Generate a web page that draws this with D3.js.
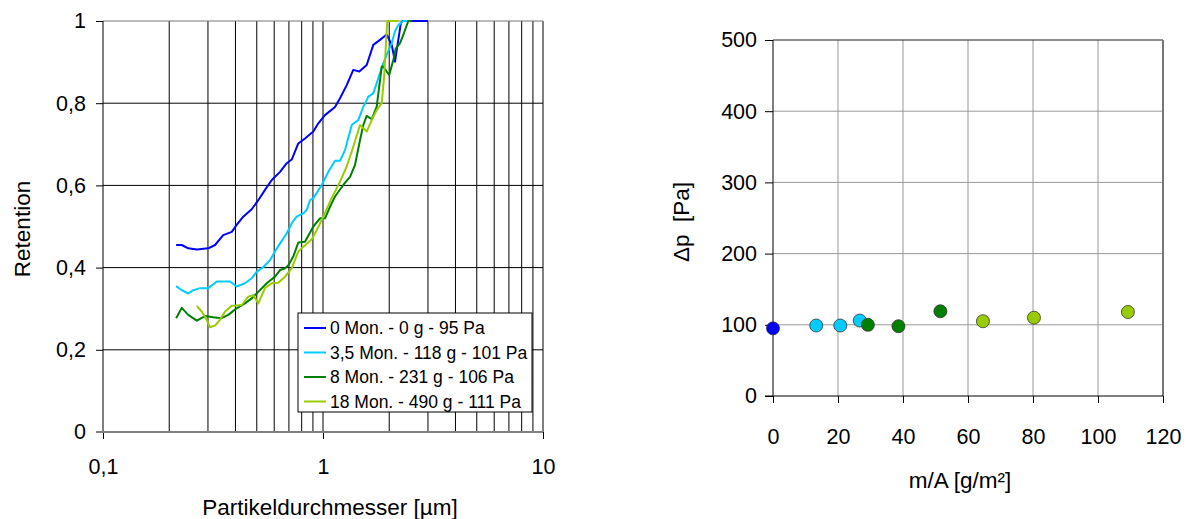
<!DOCTYPE html>
<html>
<head>
<meta charset="utf-8">
<script src="https://cdn.jsdelivr.net/npm/d3@7"></script>
<style>
  html, body { margin: 0; padding: 0; background: #fff; }
  svg { display: block; font-family: "Liberation Sans", Arial, sans-serif; }
</style>
</head>
<body>
<svg id="chart" width="1186" height="519"></svg>
<script>
// ---------- Retention curves (particle diameter in µm, retention 0..1) ----------
const seriesLabels = [
  "0 Mon. - 0 g - 95 Pa",
  "3,5 Mon. - 118 g - 101 Pa",
  "8 Mon. - 231 g - 106 Pa",
  "18 Mon. - 490 g - 111 Pa"
];

const diam0 = [0.215, 0.228, 0.244, 0.267, 0.301, 0.323, 0.352, 0.385, 0.405, 0.434, 0.474, 0.508,
  0.545, 0.585, 0.638, 0.684, 0.721, 0.772, 0.828, 0.904, 0.952, 1.021, 1.134, 1.195, 1.282, 1.373,
  1.462, 1.580, 1.693, 1.816, 1.948, 2.053, 2.125, 2.163, 2.223, 2.256, 2.30, 3.0];
const ret0 = [0.455, 0.455, 0.447, 0.444, 0.447, 0.455, 0.479, 0.487, 0.504, 0.524, 0.542, 0.564,
  0.589, 0.613, 0.633, 0.654, 0.663, 0.702, 0.714, 0.731, 0.751, 0.771, 0.791, 0.812, 0.844, 0.881,
  0.877, 0.893, 0.942, 0.954, 0.967, 0.942, 0.901, 0.929, 0.970, 0.994, 1.0, 1.0];

const diam35 = [0.215, 0.228, 0.244, 0.257, 0.276, 0.301, 0.329, 0.378, 0.405, 0.442, 0.474, 0.500,
  0.535, 0.574, 0.605, 0.638, 0.684, 0.721, 0.759, 0.814, 0.843, 0.873, 0.904, 0.987, 1.057, 1.134,
  1.195, 1.259, 1.351, 1.447, 1.525, 1.607, 1.693, 1.784, 1.880, 1.960, 2.053, 2.125, 2.199, 2.317, 2.486];
const ret35 = [0.355, 0.345, 0.337, 0.345, 0.350, 0.350, 0.366, 0.366, 0.354, 0.362, 0.374, 0.390,
  0.401, 0.418, 0.439, 0.459, 0.483, 0.508, 0.524, 0.532, 0.540, 0.564, 0.569, 0.601, 0.633, 0.660,
  0.660, 0.686, 0.747, 0.759, 0.791, 0.816, 0.824, 0.861, 0.897, 0.921, 0.946, 0.975, 0.990, 1.0, 1.0];

const diam8 = [0.215, 0.228, 0.244, 0.267, 0.291, 0.317, 0.346, 0.371, 0.405, 0.442, 0.474, 0.508,
  0.555, 0.605, 0.638, 0.672, 0.696, 0.733, 0.772, 0.828, 0.904, 0.969, 1.021, 1.076, 1.134, 1.237,
  1.327, 1.398, 1.473, 1.525, 1.580, 1.665, 1.754, 1.849, 1.880, 1.948, 2.001, 2.087, 2.141, 2.239,
  2.317, 2.442, 2.538];
const ret8 = [0.277, 0.302, 0.285, 0.271, 0.282, 0.279, 0.277, 0.285, 0.301, 0.313, 0.325, 0.341,
  0.362, 0.378, 0.394, 0.398, 0.406, 0.427, 0.461, 0.463, 0.500, 0.520, 0.520, 0.548, 0.573, 0.601,
  0.621, 0.650, 0.710, 0.747, 0.769, 0.761, 0.791, 0.889, 0.889, 0.877, 0.869, 0.905, 0.933, 0.946,
  0.966, 1.0, 1.0];

const diam18 = [0.267, 0.281, 0.296, 0.306, 0.323, 0.340, 0.359, 0.385, 0.427, 0.457, 0.482, 0.508,
  0.545, 0.585, 0.626, 0.672, 0.721, 0.772, 0.814, 0.873, 0.889, 0.936, 1.003, 1.095, 1.195, 1.282,
  1.373, 1.473, 1.580, 1.665, 1.754, 1.849, 1.900, 1.934, 1.960, 2.20];
const ret18 = [0.307, 0.293, 0.273, 0.255, 0.259, 0.273, 0.293, 0.307, 0.309, 0.329, 0.333, 0.313,
  0.350, 0.362, 0.363, 0.378, 0.398, 0.439, 0.451, 0.465, 0.469, 0.491, 0.524, 0.569, 0.609, 0.646,
  0.694, 0.747, 0.731, 0.759, 0.783, 0.800, 0.870, 0.950, 1.0, 1.0];

const retX = [diam0, diam35, diam8, diam18];
const retY = [ret0, ret35, ret8, ret18];

const retentionTicks = [0, 0.2, 0.4, 0.6, 0.8, 1];
const diameterTicks = [0.1, 1, 10];

// ---------- Pressure drop vs. dust loading ----------
const massPerArea = [0, 13.3, 20.7, 26.7, 29.2, 38.6, 51.5, 64.6, 80.3, 109.2];
const pressureDrop = [95, 99, 99, 106, 100, 98, 119, 105, 110, 118];
const pointGroup = [0, 1, 1, 1, 2, 2, 2, 3, 3, 3];
const massTicks = [0, 20, 40, 60, 80, 100, 120];
const pressureTicks = [0, 100, 200, 300, 400, 500];

// styling
const seriesColors = ["#0000ff", "#00ccff", "#008000", "#99cc00"];
const TICK_FONT = 21.5;
const TITLE_FONT = 22.5;

const svg = d3.select("#chart");
const deFmt = d3.formatLocale({decimal: ",", thousands: ".", grouping: [3], currency: ["", " €"]}).format("~g");

// ======== left panel ========
const xL = d3.scaleLog().domain([0.1, 10]).range([103, 543]);
const yL = d3.scaleLinear().domain([0, 1]).range([432, 21]);

const left = svg.append("g");

// minor + major vertical grid
const vGrid = [];
for (let dec = 0.1; dec < 10; dec *= 10) {
  for (let k = 2; k <= 10; k++) vGrid.push(+(dec * k).toPrecision(3));
}
left.append("g").selectAll("line").data(vGrid).join("line")
  .attr("x1", d => xL(d)).attr("x2", d => xL(d))
  .attr("y1", yL(0)).attr("y2", yL(1))
  .attr("stroke", "#000").attr("stroke-width", 1);

left.append("g").selectAll("line").data(retentionTicks.filter(d => d > 0)).join("line")
  .attr("x1", xL(0.1)).attr("x2", xL(10))
  .attr("y1", d => yL(d)).attr("y2", d => yL(d))
  .attr("stroke", d => d === 1 ? "#777" : "#000").attr("stroke-width", 1);

// axes
const yAxisL = left.append("g").attr("transform", `translate(${xL(0.1)},0)`)
  .call(d3.axisLeft(yL).tickValues(retentionTicks).tickFormat(deFmt).tickSize(7).tickPadding(10));
const xAxisL = left.append("g").attr("transform", `translate(0,${yL(0)})`)
  .call(d3.axisBottom(xL).tickValues(diameterTicks).tickFormat(deFmt).tickSize(7).tickPadding(20));
[yAxisL, xAxisL].forEach(a => {
  a.select(".domain").remove();
  a.selectAll("text").attr("font-size", TICK_FONT).attr("fill", "#000").attr("font-family", null);
  a.selectAll("line").attr("stroke", "#000");
});
left.append("line").attr("x1", xL(0.1)).attr("x2", xL(0.1)).attr("y1", yL(0)).attr("y2", yL(1))
  .attr("stroke", "#000");
left.append("line").attr("x1", xL(0.1) - 7).attr("x2", xL(10)).attr("y1", yL(0)).attr("y2", yL(0))
  .attr("stroke", "#808080").attr("stroke-width", 2);

// curves
left.append("clipPath").attr("id", "clipL").append("rect")
  .attr("x", xL(0.1)).attr("y", yL(1) - 1).attr("width", xL(10) - xL(0.1)).attr("height", yL(0) - yL(1) + 1);
const lineL = d3.line().x(d => xL(d[0])).y(d => yL(d[1]));
const curves = left.append("g").attr("clip-path", "url(#clipL)");
retX.forEach((xs, i) => {
  curves.append("path")
    .datum(xs.map((x, j) => [x, retY[i][j]]))
    .attr("d", lineL).attr("fill", "none")
    .attr("stroke", seriesColors[i]).attr("stroke-width", 2).attr("stroke-linejoin", "round");
});

// legend
const legend = left.append("g").attr("transform", "translate(298,313)");
legend.append("rect").attr("width", 234).attr("height", 99)
  .attr("fill", "#fff").attr("stroke", "#000").attr("stroke-width", 1);
seriesLabels.forEach((lab, i) => {
  const yy = 15 + i * 24.5;
  legend.append("line").attr("x1", 6).attr("x2", 28).attr("y1", yy).attr("y2", yy)
    .attr("stroke", seriesColors[i]).attr("stroke-width", 2);
  legend.append("text").attr("x", 32).attr("y", yy).attr("dy", "0.35em")
    .attr("font-size", 17.5).text(lab);
});

// titles
left.append("text").attr("transform", "translate(22,229) rotate(-90)")
  .attr("text-anchor", "middle").attr("dy", "0.35em").attr("font-size", TITLE_FONT).text("Retention");
left.append("text").attr("x", 330).attr("y", 507).attr("text-anchor", "middle").attr("dy", "0.35em")
  .attr("font-size", TITLE_FONT).text("Partikeldurchmesser [µm]");

// ======== right panel ========
const xR = d3.scaleLinear().domain([0, 120]).range([773, 1163]);
const yR = d3.scaleLinear().domain([0, 500]).range([396, 40]);
const right = svg.append("g");

right.append("g").selectAll("line").data(massTicks.filter(d => d > 0 && d < 120)).join("line")
  .attr("x1", d => xR(d)).attr("x2", d => xR(d)).attr("y1", yR(0)).attr("y2", yR(500))
  .attr("stroke", "#999");
right.append("g").selectAll("line").data(pressureTicks.filter(d => d > 0 && d < 500)).join("line")
  .attr("x1", xR(0)).attr("x2", xR(120)).attr("y1", d => yR(d)).attr("y2", d => yR(d))
  .attr("stroke", "#999");
right.append("line").attr("x1", xR(0)).attr("x2", xR(120)).attr("y1", yR(500)).attr("y2", yR(500))
  .attr("stroke", "#222");
right.append("line").attr("x1", xR(120)).attr("x2", xR(120)).attr("y1", yR(500)).attr("y2", yR(0))
  .attr("stroke", "#777").attr("stroke-width", 2);

const yAxisR = right.append("g").attr("transform", `translate(${xR(0)},0)`)
  .call(d3.axisLeft(yR).tickValues(pressureTicks).tickSize(8).tickPadding(8));
const xAxisR = right.append("g").attr("transform", `translate(0,${yR(0)})`)
  .call(d3.axisBottom(xR).tickValues(massTicks).tickSize(7).tickPadding(26));
[yAxisR, xAxisR].forEach(a => {
  a.select(".domain").attr("stroke", "#000");
  a.selectAll("text").attr("font-size", TICK_FONT).attr("fill", "#000").attr("font-family", null);
  a.selectAll("line").attr("stroke", "#000");
});
yAxisR.select(".domain").attr("d", `M0,${yR(0)}V${yR(500)}`);
xAxisR.select(".domain").attr("d", `M${xR(0) - 8},0H${xR(120)}`);

right.append("g").selectAll("circle").data(massPerArea).join("circle")
  .attr("cx", d => xR(d)).attr("cy", (d, i) => yR(pressureDrop[i])).attr("r", 6.5)
  .attr("fill", (d, i) => seriesColors[pointGroup[i]])
  .attr("stroke", "#333").attr("stroke-width", 0.8);

right.append("text").attr("transform", "translate(681,222) rotate(-90)")
  .attr("text-anchor", "middle").attr("dy", "0.35em").attr("font-size", TITLE_FONT)
  .attr("xml:space", "preserve").style("white-space", "pre").text("\u0394p  [Pa]");
right.append("text").attr("x", 960).attr("y", 480).attr("text-anchor", "middle").attr("dy", "0.35em")
  .attr("font-size", TITLE_FONT).text("m/A [g/m²]");
</script>
</body>
</html>
